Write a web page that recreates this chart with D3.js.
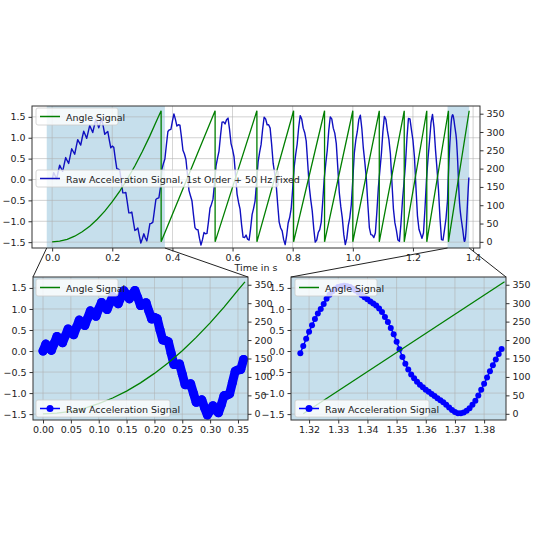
<!DOCTYPE html>
<html><head><meta charset="utf-8">
<script src="https://cdn.jsdelivr.net/npm/d3@7"></script>
<style>body{margin:0;background:#fff}text{font-family:"DejaVu Sans",sans-serif}</style>
</head><body><svg id="c" width="540" height="540"></svg>
<script>
// acceleration signal, sampled every 0.005 s from 0 to 1.315 s
const accelStart = 0, accelStep = 0.005;
const accelValues = [
0,0.165,0.09,0.015,0.18,0.345,0.27,0.195,0.36,0.525,0.45,0.385,0.56,0.735,0.67,0.605,0.78,0.955,0.89,0.825,
1.0,1.155,1.07,0.985,1.14,1.295,1.21,1.125,1.28,1.435,1.35,1.24,1.35,1.44,1.27,1.08,1.12,1.15,0.95,0.76,
0.8,0.77,0.5,0.26,0.25,0.22,-0.05,-0.32,-0.32,-0.31,-0.55,-0.8,-0.8,-0.78,-1.0,-1.22,-1.2,-1.16,-1.35,-1.52,
-1.42,-1.3,-1.4,-1.47,-1.28,-1.06,-1.05,-1.02,-0.75,-0.48,-0.45,-0.44,-0.2,
0.25,0.38,0.49,0.83,1.15,1.19,1.20,1.40,1.57,1.44,1.28,1.31,1.30,1.02,0.70,0.61,0.48,0.12,-0.26,-0.39,-0.51,-0.84,-1.15,-1.20,-1.20,-1.41,-1.57,-1.44,-1.27,-1.30,-1.29,-1.01,-0.69,-0.59,-0.47,-0.10,
0.32,0.51,0.68,1.05,1.37,1.38,1.33,1.43,1.47,1.20,0.86,0.72,0.54,0.10,-0.35,-0.55,-0.71,-1.08,-1.38,-1.39,-1.33,-1.43,-1.45,-1.18,-0.84,-0.69,-0.51,-0.06,
0.42,0.65,0.84,1.20,1.49,1.45,1.31,1.31,1.23,0.84,0.39,0.15,-0.11,-0.58,-1.02,-1.16,-1.23,-1.44,-1.56,-1.34,-1.04,-0.91,-0.70,-0.22,
0.30,0.60,0.85,1.25,1.53,1.45,1.23,1.12,0.92,0.39,-0.16,-0.48,-0.75,-1.17,-1.50,-1.45,-1.27,-1.20,-1.02,-0.52,0.03,
0.38,0.70,1.17,1.50,1.45,1.23,1.11,0.86,0.29,-0.31,-0.65,-0.92,-1.32,-1.56,-1.41,-1.10,-0.91,-0.60,
0,0.63,0.95,1.15,1.44,1.54,1.22,0.75,0.41,0.02,-0.60,-1.15,-1.32,-1.33,-1.39,-1.28,-0.78,-0.19,
0.22,0.61,1.14,1.51,1.44,1.17,0.96,0.61,-0.06,-0.70,-1.04,-1.22,-1.45,-1.48,-1.07,-0.52,-0.10,
0.36,0.99,1.46,1.45,1.19,0.94,0.54,-0.19,-0.87,-1.19,-1.30,-1.41,-1.28,-0.70,0.0,
0.49,0.91,1.36,1.56,1.25,0.71,0.25,-0.26,-0.93,-1.44,-1.45,-1.20,-0.93,-0.50
];
// last cycle, sampled every 0.001 s from 1.317 s
const detailStart = 1.317, detailStep = 0.001;
const detailValues = [
-0.05,0.12,0.29,0.46,0.61,0.76,0.89,1.0,1.12,1.24,1.34,1.42,1.48,1.52,1.54,1.55,1.54,1.52,1.48,1.44,
1.39,1.33,1.28,1.23,1.18,1.13,1.08,1.01,0.93,0.81,0.69,0.55,0.40,0.22,0.04,-0.14,-0.30,-0.44,-0.56,-0.65,
-0.73,-0.80,-0.86,-0.92,-0.97,-1.02,-1.07,-1.12,-1.17,-1.22,-1.28,-1.34,-1.40,-1.45,-1.48,-1.48,-1.46,-1.42,-1.36,-1.28,
-1.18,-1.06,-0.92,-0.78,-0.63,-0.48,-0.34,-0.20,-0.07,0.05
];
// angle signal (degrees)
const angleTimes = [0,0.025,0.05,0.075,0.1,0.125,0.15,0.175,0.2,0.225,0.25,0.275,0.3,0.325,0.35,0.3625,0.3625,0.542,0.542,0.681,0.681,0.803,0.803,0.906,0.906,1.0,1.0,1.088,1.088,1.171,1.171,1.246,1.246,1.318,1.318,1.387];
const angleValues = [0,1.7,6.8,15.4,27.4,42.8,61.6,83.9,109.6,138.7,171.2,207.2,246.6,289.4,335.6,358,0,358,0,358,0,358,0,358,0,358,0,358,0,358,0,358,0,358,0,358];
const topXTicks = [0,0.2,0.4,0.6,0.8,1.0,1.2,1.4];
const leftXTicks = [0,0.05,0.1,0.15,0.2,0.25,0.3,0.35];
const rightXTicks = [1.32,1.33,1.34,1.35,1.36,1.37,1.38];
const accTicks = [-1.5,-1.0,-0.5,0.0,0.5,1.0,1.5];
const angTicks = [0,50,100,150,200,250,300,350];
const spans = [[-0.018,0.375],[1.315,1.387]];

const accel = accelValues.map((v,i)=>({t:accelStart+i*accelStep,v}));
const detail = detailValues.map((v,i)=>({t:detailStart+i*detailStep,v}));
const allAccel = accel.concat(detail.filter(d=>d.t>1.3155));
const angle = angleTimes.map((t,i)=>({t,v:angleValues[i]}));

const svg = d3.select("#c");
const shade = "#c6dfec", fmt2 = d3.format(".2f");
function minus(s){return String(s).replace("-","\u2212");}

function panel(o){
  const g = svg.append("g");
  const x = d3.scaleLinear().domain(o.xd).range([o.x0,o.x1]);
  const y = d3.scaleLinear().domain([-1.64,1.76]).range([o.y1,o.y0]);
  const y2 = d3.scaleLinear().domain([-16.8,371]).range([o.y1,o.y0]);
  if(o.bg) g.append("rect").attr("x",o.x0).attr("y",o.y0).attr("width",o.x1-o.x0).attr("height",o.y1-o.y0).attr("fill",shade);
  (o.spans||[]).forEach(s=>g.append("rect").attr("x",x(s[0])).attr("y",o.y0).attr("width",x(s[1])-x(s[0])).attr("height",o.y1-o.y0).attr("fill",shade));
  g.selectAll(null).data(o.xt).enter().append("line").attr("x1",d=>x(d)).attr("x2",d=>x(d)).attr("y1",o.y0).attr("y2",o.y1).attr("stroke","#b0b0b0").attr("stroke-width",0.8).attr("opacity",0.7);
  g.selectAll(null).data(accTicks).enter().append("line").attr("y1",d=>y(d)).attr("y2",d=>y(d)).attr("x1",o.x0).attr("x2",o.x1).attr("stroke","#b0b0b0").attr("stroke-width",0.8).attr("opacity",0.7);
  const clipId="clip"+o.id;
  svg.append("clipPath").attr("id",clipId).append("rect").attr("x",o.x0).attr("y",o.y0).attr("width",o.x1-o.x0).attr("height",o.y1-o.y0);
  const pg = g.append("g").attr("clip-path",`url(#${clipId})`);
  const data = o.acc.filter(d=>d.t>=o.xd[0]-0.01&&d.t<=o.xd[1]+0.01);
  const line = d3.line().x(d=>x(d.t)).y(d=>y(d.v));
  if(o.band) pg.append("path").datum(data).attr("fill","none").attr("stroke","#0000ff").attr("stroke-width",o.band).attr("stroke-linejoin","round").attr("stroke-linecap","round").attr("d",line);
  pg.append("path").datum(data).attr("fill","none").attr("stroke",o.col).attr("stroke-width",o.dots?1.5:1.4).attr("stroke-linejoin","round").attr("d",line);
  if(o.dots) pg.selectAll(null).data(data).enter().append("circle").attr("cx",d=>x(d.t)).attr("cy",d=>y(d.v)).attr("r",o.dots).attr("fill","#0000ff");
  let ang = angle;
  if(o.angMin!==undefined) ang = angle.filter(d=>d.t>o.angMin || (d.t===o.angMin && d.v===0));
  if(o.angMax!==undefined) ang = angle.filter(d=>d.t<o.angMax || (d.t===o.angMax && d.v>0));
  pg.append("path").datum(ang).attr("fill","none").attr("stroke","#007f00").attr("stroke-width",1.3)
    .attr("d",d3.line().x(d=>x(d.t)).y(d=>y2(d.v)));
  const ax=g.append("g").attr("transform",`translate(0,${o.y1})`).call(d3.axisBottom(x).tickValues(o.xt).tickFormat(o.xf).tickSize(3.5).tickPadding(3));
  const ay=g.append("g").attr("transform",`translate(${o.x0},0)`).call(d3.axisLeft(y).tickValues(accTicks).tickFormat(d=>minus(d.toFixed(1))).tickSize(3.5).tickPadding(3));
  const ay2=g.append("g").attr("transform",`translate(${o.x1},0)`).call(d3.axisRight(y2).tickValues(angTicks).tickSize(3.5).tickPadding(3));
  [ax,ay,ay2].forEach(a=>{a.select(".domain").remove();a.selectAll("text").attr("font-size",9.5).attr("fill","#222").style("font-family","DejaVu Sans");a.selectAll("line").attr("stroke","#333");});
  g.append("rect").attr("x",o.x0).attr("y",o.y0).attr("width",o.x1-o.x0).attr("height",o.y1-o.y0).attr("fill","none").attr("stroke","#333").attr("stroke-width",1);
  o.legends.forEach(L=>{
    g.append("rect").attr("x",L.x).attr("y",L.y).attr("width",L.w).attr("height",17).attr("rx",2).attr("fill","#fff").attr("fill-opacity",0.8).attr("stroke","#ccc").attr("stroke-width",0.8);
    g.append("line").attr("x1",L.x+4).attr("x2",L.x+24).attr("y1",L.y+8.5).attr("y2",L.y+8.5).attr("stroke",L.c).attr("stroke-width",1.5);
    if(L.dot) g.append("circle").attr("cx",L.x+14).attr("cy",L.y+8.5).attr("r",3.5).attr("fill",L.c);
    g.append("text").attr("x",L.x+30).attr("y",L.y+12.5).attr("font-size",9.5).attr("fill","#222").text(L.text);
  });
  return {x,y,o};
}

const top_ = panel({id:"t",x0:32,x1:480,y0:106,y1:248,xd:[-0.067,1.423],xt:topXTicks,xf:d=>d.toFixed(1),acc:allAccel,spans,col:"#1010c0",
  legends:[{x:36,y:108,w:82,c:"#007f00",text:"Angle Signal"},{x:36,y:170,w:242,c:"#1010c0",text:"Raw Acceleration Signal, 1st Order + 50 Hz Fixed"}]});
svg.append("text").attr("x",256).attr("y",271).attr("text-anchor","middle").attr("font-size",9.5).attr("fill","#222").text("Time in s");
const bl = panel({id:"l",x0:33,x1:248,y0:277,y1:420,xd:[-0.018,0.368],xt:leftXTicks,xf:fmt2,acc:accel.filter(d=>d.t<=0.361),bg:true,dots:4.5,band:9,col:"#0000ff",angMax:0.3625,
  legends:[{x:36,y:279,w:82,c:"#007f00",text:"Angle Signal"},{x:36,y:400,w:134,c:"#0000ff",dot:true,text:"Raw Acceleration Signal"}]});
const br = panel({id:"r",x0:291,x1:506,y0:277,y1:420,xd:[1.3138,1.3875],xt:rightXTicks,xf:fmt2,acc:detail,bg:true,dots:3,col:"#0000ff",angMin:1.318,
  legends:[{x:295,y:279,w:82,c:"#007f00",text:"Angle Signal"},{x:295,y:400,w:134,c:"#0000ff",dot:true,text:"Raw Acceleration Signal"}]});
const tx=top_.x;
[[spans[0][0],33],[spans[0][1],248],[spans[1][0],291],[spans[1][1],506]].forEach(([t,xb])=>{
  svg.append("line").attr("x1",tx(t)).attr("y1",248).attr("x2",xb).attr("y2",277).attr("stroke","#222").attr("stroke-width",1);
});
</script></body></html>
